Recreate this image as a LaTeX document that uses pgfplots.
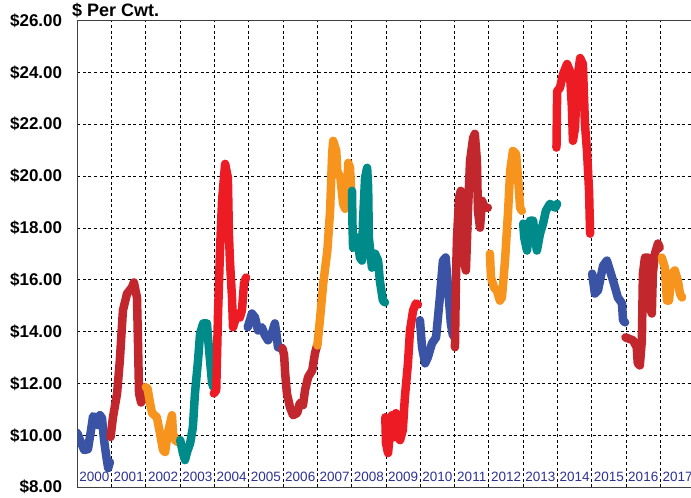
\documentclass[border=0pt]{standalone}
\usepackage{fontspec}
\setmainfont{Liberation Sans}
\usepackage{pgfplots}
\pgfplotsset{compat=1.18}
\usetikzlibrary{calc}
\definecolor{cblue}{RGB}{58,83,164}
\definecolor{cdred}{RGB}{193,39,45}
\definecolor{corange}{RGB}{247,148,29}
\definecolor{cteal}{RGB}{0,139,139}
\definecolor{cred}{RGB}{237,28,36}
\definecolor{cyear}{RGB}{46,49,146}
\begin{document}
\begin{tikzpicture}
\begin{axis}[name=ax, scale only axis, width=617.4bp, height=466.8bp,
 xmin=2000, xmax=2018, ymin=8, ymax=26,
 xtick={2000,2001,2002,2003,2004,2005,2006,2007,2008,2009,2010,2011,2012,2013,2014,2015,2016,2017,2018},
 xticklabels={},
 ytick={8,10,12,14,16,18,20,22,24,26},
 yticklabels={\$8.00,\$10.00,\$12.00,\$14.00,\$16.00,\$18.00,\$20.00,\$22.00,\$24.00,\$26.00},
 major tick length=0pt,
 grid=major,
 major grid style={black, line width=0.9bp, dash pattern=on 3bp off 2.6bp},
 axis line style={black!75, line width=1.3bp},
 yticklabel style={font=\fontsize{17bp}{18bp}\selectfont\bfseries, inner sep=0pt},
 yticklabel shift=15bp,
 every axis plot/.append style={line width=8.5bp, line join=round, line cap=round, mark=none},
]
% 2000
\addplot[cblue] coordinates {(2000.00,10.09) (2000.08,9.82) (2000.20,9.44) (2000.31,9.47) (2000.40,10.20) (2000.46,10.74) (2000.55,10.67) (2000.60,10.40) (2000.66,10.78) (2000.72,10.67) (2000.78,9.82) (2000.84,9.24) (2000.90,8.74) (2000.95,8.97)};
% 2001
\addplot[cdred] coordinates {(2000.97,9.94) (2001.04,10.70) (2001.16,11.62) (2001.24,12.89) (2001.30,14.17) (2001.33,14.82) (2001.45,15.47) (2001.59,15.70) (2001.65,15.90) (2001.74,15.32) (2001.77,13.55) (2001.80,11.62) (2001.86,11.27) (2001.92,11.47) (2001.97,11.86)};
% 2002
\addplot[corange] coordinates {(2002.00,11.86) (2002.05,11.80) (2002.12,11.25) (2002.18,10.86) (2002.32,10.70) (2002.41,10.09) (2002.50,9.43) (2002.56,9.36) (2002.64,10.09) (2002.76,10.78) (2002.79,10.09) (2002.85,9.82) (2002.94,9.74) (2002.99,9.74)};
% 2003
\addplot[cteal] coordinates {(2003.00,9.82) (2003.08,9.32) (2003.14,9.05) (2003.20,9.36) (2003.29,9.70) (2003.37,10.32) (2003.43,11.62) (2003.52,12.89) (2003.58,13.93) (2003.67,14.32) (2003.78,14.32) (2003.81,13.78) (2003.87,12.89) (2003.93,12.01) (2003.97,11.86)};
% 2004
\addplot[cred] coordinates {(2003.98,11.62) (2004.05,11.74) (2004.10,14.55) (2004.16,17.13) (2004.22,19.05) (2004.31,20.47) (2004.39,19.94) (2004.42,17.78) (2004.45,16.74) (2004.51,15.32) (2004.54,14.17) (2004.66,14.70) (2004.74,14.55) (2004.80,14.82) (2004.86,15.86) (2004.92,16.09)};
% 2005
\addplot[cblue] coordinates {(2004.97,14.17) (2005.09,14.70) (2005.18,14.55) (2005.27,14.05) (2005.38,14.17) (2005.47,13.86) (2005.56,13.67) (2005.67,13.93) (2005.76,14.32) (2005.82,13.78) (2005.85,13.40) (2005.97,13.36)};
% 2006
\addplot[cdred] coordinates {(2005.98,13.36) (2006.03,13.09) (2006.06,12.40) (2006.11,11.63) (2006.20,11.09) (2006.29,10.78) (2006.41,10.86) (2006.49,11.25) (2006.58,11.17) (2006.64,11.75) (2006.73,12.25) (2006.85,12.51) (2006.93,13.17) (2006.99,13.47)};
% 2007
\addplot[corange] coordinates {(2007.00,13.47) (2007.08,14.55) (2007.17,15.86) (2007.29,17.13) (2007.37,18.66) (2007.43,20.86) (2007.46,21.36) (2007.55,20.97) (2007.58,20.20) (2007.67,19.94) (2007.75,18.93) (2007.81,18.74) (2007.87,19.55) (2007.90,20.51) (2007.95,20.32) (2007.98,19.55)};
% 2008
\addplot[cteal] coordinates {(2008.01,19.43) (2008.02,18.28) (2008.04,17.24) (2008.16,17.63) (2008.24,16.86) (2008.30,16.74) (2008.33,18.28) (2008.39,19.94) (2008.45,20.32) (2008.48,19.55) (2008.50,17.63) (2008.59,16.47) (2008.68,17.01) (2008.77,16.74) (2008.82,15.97) (2008.91,15.20) (2008.97,15.13)};
% 2009
\addplot[cred] coordinates {(2008.98,10.70) (2009.00,9.70) (2009.06,9.32) (2009.12,10.20) (2009.17,10.78) (2009.23,9.93) (2009.29,10.86) (2009.35,9.93) (2009.41,9.82) (2009.49,10.20) (2009.55,11.47) (2009.64,12.78) (2009.70,14.05) (2009.79,14.82) (2009.87,15.09) (2009.93,15.05)};
% 2010
\addplot[cblue] coordinates {(2009.99,14.44) (2010.05,13.40) (2010.14,12.78) (2010.22,13.01) (2010.34,13.55) (2010.46,13.78) (2010.57,15.32) (2010.66,16.74) (2010.74,16.86) (2010.83,15.32) (2010.89,14.32) (2010.95,13.86)};
% 2011
\addplot[cdred] coordinates {(2011.01,13.40) (2011.04,16.09) (2011.07,17.63) (2011.13,19.17) (2011.18,19.43) (2011.24,18.66) (2011.27,16.74) (2011.33,16.36) (2011.39,18.66) (2011.45,20.59) (2011.54,21.47) (2011.59,21.63) (2011.65,20.59) (2011.68,18.66) (2011.74,18.01) (2011.80,19.05) (2011.88,18.78) (2011.97,18.78)};
% 2012
\addplot[corange] coordinates {(2012.03,17.01) (2012.06,16.09) (2012.15,15.70) (2012.23,15.59) (2012.32,15.20) (2012.38,15.32) (2012.47,16.74) (2012.56,18.66) (2012.62,20.20) (2012.70,20.97) (2012.79,20.86) (2012.85,19.94) (2012.91,18.78) (2012.96,18.66)};
% 2013
\addplot[cteal] coordinates {(2013.00,18.17) (2013.03,17.63) (2013.11,17.13) (2013.20,18.28) (2013.29,18.28) (2013.34,17.63) (2013.40,17.13) (2013.49,17.78) (2013.58,18.17) (2013.66,18.66) (2013.78,18.93) (2013.93,18.78) (2013.99,18.93)};
% 2014
\addplot[cred] coordinates {(2013.97,21.10) (2013.99,23.28) (2014.07,23.40) (2014.16,23.93) (2014.28,24.32) (2014.36,24.05) (2014.42,22.63) (2014.45,21.36) (2014.51,21.86) (2014.57,23.67) (2014.66,24.55) (2014.74,24.32) (2014.80,22.01) (2014.86,20.97) (2014.92,19.43) (2014.95,17.78)};
% 2015
\addplot[cblue] coordinates {(2015.01,16.24) (2015.09,15.47) (2015.18,15.59) (2015.33,16.55) (2015.44,16.74) (2015.62,15.97) (2015.76,15.32) (2015.88,15.09) (2015.91,14.44) (2015.97,14.36)};
% 2016
\addplot[cdred] coordinates {(2015.98,13.78) (2016.20,13.67) (2016.31,13.40) (2016.34,12.78) (2016.40,12.70) (2016.46,13.67) (2016.49,16.24) (2016.55,16.86) (2016.64,16.86) (2016.69,14.94) (2016.75,14.70) (2016.78,16.24) (2016.84,17.01) (2016.93,17.40) (2016.98,17.24)};
% 2017
\addplot[corange] coordinates {(2017.04,16.86) (2017.13,16.47) (2017.19,15.20) (2017.25,15.20) (2017.33,16.24) (2017.42,16.36) (2017.51,15.97) (2017.57,15.47) (2017.63,15.32)};
\pgfplotsinvokeforeach{2000,2001,2002,2003,2004,2005,2006,2007,2008,2009,2010,2011,2012,2013,2014,2015,2016,2017}{
  \node[text=cyear, font=\fontsize{13.5bp}{14bp}\selectfont, inner sep=0pt] at (axis cs:#1.5,8.41) {#1};
}
\end{axis}
\node[anchor=base west, inner sep=0pt, font=\fontsize{18bp}{20bp}\selectfont\bfseries] at ($(ax.north west)+(-5.3bp,3.8bp)$) {\$ Per Cwt.};
\pgfresetboundingbox
\path[use as bounding box] ($(ax.south west)+(-77.3bp,-10.7bp)$) rectangle ($(ax.south west)+(613.7bp,487.3bp)$);
\end{tikzpicture}
\end{document}
